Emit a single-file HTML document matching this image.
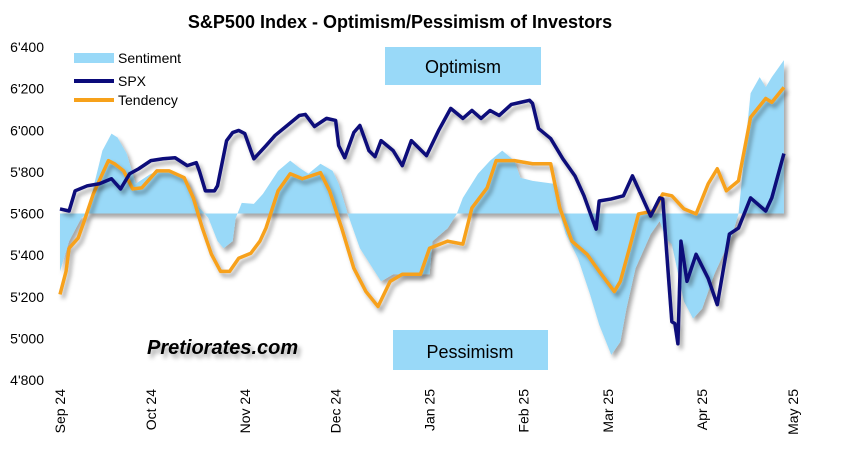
<!DOCTYPE html>
<html><head><meta charset="utf-8"><style>
body{margin:0;background:#fff;width:852px;height:460px;overflow:hidden;font-family:"Liberation Sans",sans-serif}
</style></head><body>
<svg id="chart" width="852" height="460" viewBox="0 0 852 460">
<defs>
<filter id="sh" x="-5%" y="-5%" width="110%" height="120%"><feDropShadow dx="3" dy="4" stdDeviation="2" flood-color="#000" flood-opacity="0.35"/></filter>
</defs>
<text x="400" y="28" text-anchor="middle" font-size="18" font-weight="bold">S&amp;P500 Index - Optimism/Pessimism of Investors</text>
<rect x="385" y="47" width="156" height="38" fill="#99d9f8"/>
<text x="463" y="73" text-anchor="middle" font-size="18">Optimism</text>
<rect x="393" y="330" width="155" height="40" fill="#99d9f8"/>
<text x="470" y="358" text-anchor="middle" font-size="18">Pessimism</text>
<text x="147" y="354" font-size="20" font-weight="bold" font-style="italic" filter="url(#sh)">Pretiorates.com</text>
<g id="yaxis"></g>
<g id="xaxis"></g>
<g id="plot"></g>
<g>
<rect x="74" y="53" width="40" height="10" fill="#99d9f8"/>
<text x="118" y="63" font-size="14">Sentiment</text>
<line x1="74" y1="81" x2="114" y2="81" stroke="#0a0a7a" stroke-width="4"/>
<text x="118" y="86" font-size="14">SPX</text>
<line x1="74" y1="100" x2="114" y2="100" stroke="#f7a11a" stroke-width="4"/>
<text x="118" y="105" font-size="14">Tendency</text>
</g>
</svg>
<script>
const yTicks=[4800,5000,5200,5400,5600,5800,6000,6200,6400];
const yTickLabels=["4'800","5'000","5'200","5'400","5'600","5'800","6'000","6'200","6'400"];
const monthDays=[0,30,61,91,122,153,181,212,242];
const monthLabels=["Sep 24","Oct 24","Nov 24","Dec 24","Jan 25","Feb 25","Mar 25","Apr 25","May 25"];
const baseline=5600;
const spxDays=[0,3,5,9,13,17,20,23,26,30,34,38,42,45,46,48,51,52,55,57,59,61,63,64,68,71,75,79,81,84,88,91,92,94,97,99,102,104,106,110,113,116,121,125,129,133,136,139,142,145,149,152,155,156,158,162,166,170,173,176,177,178,182,186,189,192,195,198,199,201,202,203,204,205,207,210,214,217,221,224,228,233,235,239];
const spxValues=[5622,5612,5709,5733,5743,5767,5718,5791,5815,5854,5863,5868,5830,5844,5805,5709,5709,5733,5950,5989,5999,5984,5902,5863,5926,5975,6023,6071,6076,6018,6057,6047,5926,5868,5989,6023,5902,5873,5950,5902,5830,5950,5878,5999,6105,6057,6095,6057,6095,6071,6124,6134,6144,6129,6008,5960,5863,5781,5685,5564,5525,5660,5670,5685,5781,5685,5588,5675,5670,5274,5080,5071,4974,5467,5274,5404,5288,5162,5501,5530,5675,5612,5675,5888];
const tendDays=[0,2,3,6,8,11,14,16,18,21,24,27,32,36,41,44,47,50,53,56,59,63,66,68,72,76,80,86,89,93,97,101,105,109,113,119,122,128,133,136,141,144,150,156,162,165,169,174,178,183,185,188,191,196,199,202,206,210,214,217,220,224,228,233,235,239];
const tendValues=[5211,5322,5433,5482,5564,5694,5791,5854,5839,5805,5718,5723,5805,5805,5772,5675,5530,5404,5322,5322,5385,5409,5467,5530,5709,5791,5767,5796,5709,5530,5337,5225,5153,5274,5308,5308,5433,5467,5453,5627,5723,5854,5854,5839,5839,5627,5467,5404,5322,5225,5274,5433,5598,5612,5694,5685,5622,5598,5743,5815,5709,5757,6062,6153,6134,6206];
const sentDays=[0,3,7,9,11,14,17,19,22,24,25,30,34,39,42,45,49,52,54,57,58,60,64,67,72,76,79,82,86,90,92,95,99,106,110,117,122,123,128,131,133,138,142,146,150,152,156,163,165,167,171,175,178,182,185,187,190,195,198,200,202,206,209,212,216,219,222,224,228,231,233,235,239];
const sentValues=[5322,5467,5578,5598,5724,5902,5984,5965,5888,5791,5743,5791,5805,5791,5757,5646,5578,5467,5433,5467,5578,5651,5646,5694,5805,5854,5820,5791,5839,5805,5743,5598,5433,5274,5308,5308,5308,5467,5530,5598,5675,5791,5854,5902,5854,5772,5757,5743,5598,5501,5385,5211,5066,4921,4984,5143,5337,5501,5564,5481,5452,5177,5095,5143,5308,5404,5501,5598,6178,6255,6207,6255,6337];

const X=d=>60+d*(793-60)/242;
const Y=v=>380-(v-4800)*333/1600;
const NS='http://www.w3.org/2000/svg';
function mk(tag,attrs,parent){const e=document.createElementNS(NS,tag);for(const k in attrs)e.setAttribute(k,attrs[k]);parent.appendChild(e);return e;}
const yax=document.getElementById('yaxis'),xax=document.getElementById('xaxis'),plot=document.getElementById('plot');
yTicks.forEach((v,i)=>{const t=mk('text',{x:44,y:Y(v)+5,'text-anchor':'end','font-size':14},yax);t.textContent=yTickLabels[i];

});
monthDays.forEach((d,i)=>{const x=X(d)+5;const t=mk('text',{x:0,y:0,'text-anchor':'end','font-size':14,transform:`translate(${x},389) rotate(-90)`},xax);t.textContent=monthLabels[i];

});
let a=`M${X(sentDays[0])},${Y(baseline)}`;
sentDays.forEach((d,i)=>a+=` L${X(d)},${Y(sentValues[i])}`);
a+=` L${X(sentDays[sentDays.length-1])},${Y(baseline)} Z`;
const area=mk('path',{d:a,fill:'#99d9f8',filter:'url(#sh)'},plot);


function line(days,vals,color,name){const d=days.map((dd,i)=>(i?'L':'M')+X(dd)+','+Y(vals[i])).join(' ');
const p=mk('path',{d:d,fill:'none',stroke:color,'stroke-width':3.5,'stroke-linejoin':'round',filter:'url(#sh)'},plot);

}
line(tendDays,tendValues,'#f7a11a','tendency-line');
line(spxDays,spxValues,'#0a0a7a','spx-line');
</script>
</body></html>
